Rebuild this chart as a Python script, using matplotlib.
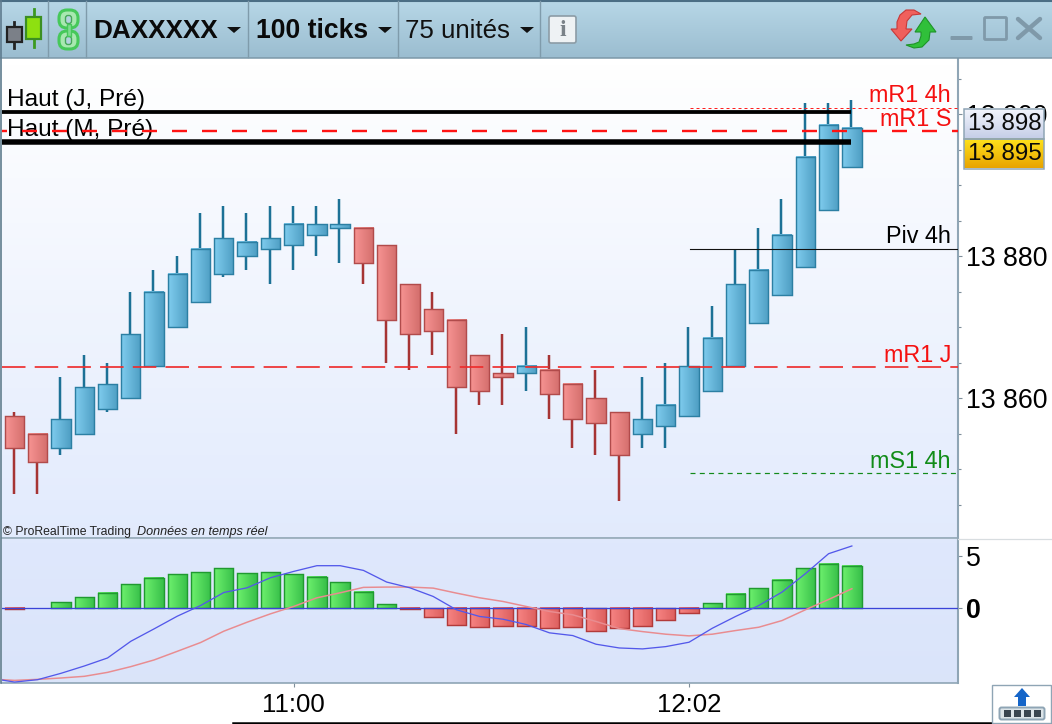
import numpy as np
import matplotlib
matplotlib.use("Agg")
import matplotlib.pyplot as plt
from matplotlib.patches import Polygon, Rectangle, FancyBboxPatch
from matplotlib.ticker import FixedLocator, FixedFormatter

plt.rcParams['font.family'] = ['Liberation Sans', 'DejaVu Sans']
plt.rcParams['lines.scale_dashes'] = False

# ---------- data ----------
top = [13857.5,13855,13857,13861.5,13862,13869,13875,13877.5,13881,13882.5,13882,13882.5,13884.5,13884.5,13884.5,13884,13881.5,13876,13872.5,13871,13866,13863.5,13864.5,13864,13862,13860,13858,13857,13859,13864.5,13868.5,13876,13878,13883,13894,13898.5,13898]
bottom = [13853,13851,13853,13855,13858.5,13860,13864.5,13870,13873.5,13877.5,13880,13881,13881.5,13883,13884,13879,13871,13869,13869.5,13861.5,13861,13863,13863.5,13860.5,13857,13856.5,13852,13855,13856,13857.5,13861,13864.5,13870.5,13874.5,13878.5,13886.5,13892.5]
high = [13858,13855,13863,13866,13865,13875,13878,13880,13886,13887,13886,13887,13887,13887,13888,13884,13881.5,13876,13875,13871,13866,13869,13870,13866,13862,13864,13858,13863,13865,13870,13873,13881,13884,13888,13901.5,13901.5,13902]
low = [13846.5,13846.5,13852,13855,13858,13860,13864.5,13870,13873.5,13877,13878,13876,13878,13880,13879,13876,13865,13864,13866,13855,13859,13859,13861,13857,13853,13852,13845.5,13853,13853,13857.5,13861,13864.5,13870.5,13874.5,13878.5,13886.5,13892.5]
up = [0,0,1,1,1,1,1,1,1,1,1,1,1,1,1,0,0,0,0,0,0,0,1,0,0,0,0,1,1,1,1,1,1,1,1,1,1]

hist = [-0.15,0,0.55,1.0,1.45,2.25,2.9,3.25,3.45,3.8,3.35,3.45,3.25,3.0,2.45,1.55,0.35,-0.15,-0.85,-1.65,-1.85,-1.75,-1.75,-1.95,-1.85,-2.2,-1.95,-1.75,-1.15,-0.5,0.45,1.35,1.9,2.7,3.8,4.25,4.05]
macd = [-6.76,-7.12,-6.89,-6.28,-5.58,-4.81,-3.21,-2.02,-0.80,0.22,1.47,1.92,2.88,3.49,4.04,4.04,3.59,2.47,1.92,1.09,-0.19,-0.83,-1.09,-1.60,-2.40,-2.66,-3.49,-3.85,-3.94,-3.72,-3.30,-1.96,-0.83,0.22,1.51,3.27,5.19,5.93]
signal = [-6.83,-6.96,-6.86,-6.73,-6.57,-6.19,-5.64,-5.0,-4.17,-3.33,-2.24,-1.38,-0.58,0.13,0.96,1.44,1.96,1.99,1.99,1.89,1.41,0.96,0.61,0.13,-0.35,-0.67,-1.31,-1.99,-2.28,-2.53,-2.69,-2.53,-2.18,-1.86,-1.22,-0.19,0.8,1.83]

haut_j = 13900.3
haut_m = 13896
mr1_4h = 13900.8
mr1_s = 13897.6
piv_4h = 13881
mr1_j = 13864.4
ms1_4h = 13849.4
last_price = 13898
other_price = 13895

price_major = [13860, 13880, 13900]
price_major_labels = ['13 860', '13 880', '13 900']
price_minor = [13845,13850,13855,13865,13870,13875,13885,13890,13895,13905]
time_pos = [12, 29]
time_labels = ['11:00', '12:02']

W, H = 1052, 724
fig = plt.figure(figsize=(W/100, H/100), dpi=100, facecolor='white')
PX = 0.72
def rect(l, t, r, b):
    return [l/W, 1-b/H, (r-l)/W, (b-t)/H]

XL = ((2-14.5)/23.26, (958-14.5)/23.26)
PY = lambda y: 13880 + (256-y)/7.1

ax = fig.add_axes(rect(2, 58, 958, 538))
ax2 = fig.add_axes(rect(2, 539, 958, 683))
for a in (ax, ax2):
    for s in ('left', 'top'):
        a.spines[s].set_visible(False)
    a.spines['right'].set_color('#8FA5B5')
    a.spines['right'].set_linewidth(1.5)
    a.spines['bottom'].set_color('#8FA5B5')
    a.spines['bottom'].set_linewidth(1.2)

ylim = (PY(538), PY(58))
ylim2 = (-7.21, 6.6)
g1 = np.linspace([1,1,1],[0.886,0.92,0.992],64).reshape(64,1,3)
ax.imshow(g1, extent=(XL[0],XL[1],ylim[0],ylim[1]), aspect='auto', origin='upper', zorder=0)
g2 = np.linspace([0.875,0.91,0.99],[0.855,0.895,0.98],32).reshape(32,1,3)
ax2.imshow(g2, extent=(XL[0],XL[1],ylim2[0],ylim2[1]), aspect='auto', origin='upper', zorder=0)

def hex2(c):
    return np.array(matplotlib.colors.to_rgb(c))
def grad_bar(a, x, y0, y1, c0, c1, ec, w=0.83, z=3):
    g = np.linspace(hex2(c0), hex2(c1), 24).reshape(1,24,3)
    a.imshow(g, extent=(x-w/2, x+w/2, y0, y1), aspect='auto', origin='lower', zorder=z, interpolation='bilinear')
    a.add_patch(Rectangle((x-w/2, y0), w, y1-y0, fill=False, ec=ec, lw=1.3*PX*1.1, zorder=z+0.1))

# candles
for i in range(len(top)):
    if up[i]:
        wick, c0, c1, ec = '#1C7196', '#7FCCEE', '#4F9FC4', '#2C7FA3'
    else:
        wick, c0, c1, ec = '#A63434', '#F79392', '#D46F6D', '#B14B4B'
    ax.plot([i-0.03, i-0.03], [low[i], high[i]], color=wick, lw=2.5*PX, zorder=2, solid_capstyle='butt')
    grad_bar(ax, i, bottom[i], top[i], c0, c1, ec)

# levels
last = len(top) - 1
ax.plot([XL[0], last-0.03], [haut_j, haut_j], color='black', lw=3.8*PX, zorder=5, solid_capstyle='butt')
ax.plot([XL[0], last-0.03], [haut_m, haut_m], color='black', lw=5.5*PX, zorder=5, solid_capstyle='butt')
i4h = (690-14.5)/23.26
ax.plot([XL[0], XL[1]], [mr1_s, mr1_s], color='#FF1414', lw=2.4*PX, zorder=6,
        linestyle=(10*PX, (15*PX, 15*PX)), dash_capstyle='butt')
ax.plot([XL[0], XL[1]], [mr1_j, mr1_j], color='#EE2C2C', lw=1.7*PX, zorder=6,
        linestyle=(0, (23.5*PX, 9.2*PX)), dash_capstyle='butt')
ax.plot([i4h, XL[1]], [mr1_4h, mr1_4h], color='#FF2020', lw=1*PX, zorder=6,
        linestyle=(0, (3*PX, 3*PX)), dash_capstyle='butt')
ax.plot([i4h, XL[1]], [piv_4h, piv_4h], color='#111111', lw=1.1*PX, zorder=6)
ax.plot([i4h, XL[1]], [ms1_4h, ms1_4h], color='#128A1A', lw=1.2*PX, zorder=6,
        linestyle=(0, (5*PX, 4.3*PX)), dash_capstyle='butt')

FS = 17.6
def ltxt(a, x_px, y_px, s, color='black', ha='left', fs=FS, z=7, **k):
    x = XL[0] + (x_px-2)/23.26
    a.text(x, PY(y_px), s, color=color, ha=ha, va='center', fontsize=fs, zorder=z, **k)
ltxt(ax, 7, 100, 'Haut (J, Pré)')
ltxt(ax, 7, 130, 'Haut (M, Pré)', z=5.5)
ltxt(ax, 951, 96, 'mR1 4h', color='#F51010', ha='right', fs=16.8)
ltxt(ax, 951, 119, 'mR1 S', color='#F51010', ha='right', fs=16.8)
ltxt(ax, 951, 236, 'Piv 4h', ha='right', fs=16.8)
ltxt(ax, 951, 355, 'mR1 J', color='#F51010', ha='right', fs=16.8)
ltxt(ax, 951, 461, 'mS1 4h', color='#118C18', ha='right', fs=16.8)
ltxt(ax, 3, 532, '© ProRealTime Trading', fs=8.8, color='#222222')
ltxt(ax, 137, 532, 'Données en temps réel', fs=9.1, color='#222222', style='italic')

ax.set_xlim(*XL); ax.set_ylim(*ylim)
ax.set_xticks([])
ax.yaxis.tick_right()
ax.yaxis.set_major_locator(FixedLocator(price_major))
ax.yaxis.set_major_formatter(FixedFormatter(price_major_labels))
ax.yaxis.set_minor_locator(FixedLocator(price_minor))
ax.tick_params(axis='y', which='major', length=4*PX, width=0.8, color='#7f8f9a', labelsize=19.3, pad=3)
ax.tick_params(axis='y', which='minor', length=3*PX, width=0.8, color='#7f8f9a')

# histogram
for i, v in enumerate(hist):
    if v > 0:
        grad_bar(ax2, i, 0, v, '#6DF06D', '#38C04A', '#209A30')
    elif v < 0:
        grad_bar(ax2, i, v, 0, '#F78584', '#DD5F5E', '#B23A3A')
ax2.axhline(0, color='#3A44D8', lw=1.3*PX, zorder=5)
xl = np.arange(-1, len(top))
ax2.plot(xl, signal, color='#E98C90', lw=1.5*PX, zorder=6)
ax2.plot(xl, macd, color='#5358EA', lw=1.3*PX, zorder=7)
ax2.set_xlim(*XL); ax2.set_ylim(*ylim2)
ax2.set_xticks(time_pos); ax2.set_xticklabels(time_labels)
ax2.set_yticks([0, 5]); ax2.set_yticklabels(['0', '5'])
ax2.yaxis.tick_right()
ax2.tick_params(axis='x', length=4*PX, width=0.8, color='#7f8f9a', labelsize=18.5, pad=4.5)
ax2.tick_params(axis='y', length=4*PX, width=0.8, color='#7f8f9a', labelsize=19.3, pad=3)
ax2.get_yticklabels()[0].set_fontweight('bold')

# ---------- window chrome (pixel overlay) ----------
ov = fig.add_axes([0, 0, 1, 1], facecolor='none', zorder=10)
ov.set_xlim(0, W); ov.set_ylim(H, 0); ov.axis('off')

def vgrad(l, t, r, b, c0, c1, z=1):
    g = np.linspace(hex2(c0), hex2(c1), 40).reshape(40,1,3)
    ov.imshow(g, extent=(l, r, b, t), aspect='auto', zorder=z, interpolation='bilinear')

vgrad(0, 0, W, 58, '#B7D7E7', '#9BBDD0')
ov.plot([0, W], [0.7, 0.7], color='#4B6E85', lw=1.5)
ov.plot([0, W], [57.8, 57.8], color='#7C98A8', lw=1.1, zorder=2)
ov.plot([0.7, 0.7], [0, 683], color='#5E7B8E', lw=1.2, zorder=2)
for x in (48, 86, 248, 398, 540):
    ov.plot([x, x], [1, 57], color='#7F9BAB', lw=1, zorder=2)

# candle icon
ov.plot([14, 14], [22, 48], color='#222', lw=2, zorder=3)
ov.add_patch(Rectangle((7, 27), 15, 15, fc='#7B8088', ec='#222', lw=1.6, zorder=4))
ov.plot([33.5, 33.5], [9, 47], color='#3C9A20', lw=2, zorder=3)
ov.add_patch(Rectangle((26, 17), 15, 22, fc='#8EE010', ec='#3C8F22', lw=1.6, zorder=4))
# chain icon
for t in (9, 30):
    ov.add_patch(FancyBboxPatch((61, t+3), 15, 14, boxstyle='round,pad=2,rounding_size=8',
                                fc='#A8E8B0', ec='#46C85A', lw=2.2, zorder=3))
    ov.add_patch(FancyBboxPatch((66, t+7), 5, 7, boxstyle='round,pad=0.5,rounding_size=2.5',
                                fc='#B5D2DF', ec='#46A85A', lw=1, zorder=4))
ov.add_patch(Rectangle((66.5, 24), 4, 12, fc='#7FDC90', ec='#46C85A', lw=1, zorder=5))

ov.text(93, 31, 'DAXXXXX', fontsize=18.8, fontweight='bold', va='center', zorder=3, color='#0A0A0A')
ov.text(256, 31, '100 ticks', fontsize=19.1, fontweight='bold', va='center', zorder=3, color='#0A0A0A')
ov.text(405, 31, '75 unités', fontsize=18.6, va='center', zorder=3, color='#111111')
for cx in (234, 385, 527):
    ov.add_patch(Polygon([(cx-7, 27), (cx+7, 27), (cx, 33)], fc='#111', ec='none', zorder=3))

# info button
ov.add_patch(FancyBboxPatch((550, 17), 25, 25, boxstyle='round,pad=1,rounding_size=2', fc='#EEF2F4', ec='#8C9CA6', lw=1.2, zorder=3))
ov.text(562.5, 30, 'i', fontsize=17, fontweight='bold', family='Liberation Serif', color='#7A8288', ha='center', va='center', zorder=4)

# refresh icon
ov.add_patch(Polygon([(891, 29), (901, 41), (912, 29), (906, 29), (907, 21), (912, 15), (921, 14), (914, 10), (906, 10), (900, 15), (897, 22), (897, 29)],
                     fc='#F0605C', ec='#C83838', lw=0.8, zorder=3))
ov.add_patch(Polygon([(915, 32), (925, 17), (936, 32), (930, 32), (929, 40), (922, 47), (914, 48), (906, 45), (914, 44), (919, 42), (921, 36), (921, 32)],
                     fc='#30C03A', ec='#1E9428', lw=0.8, zorder=4))
# window buttons
ov.add_patch(FancyBboxPatch((951, 36.5), 21, 3, boxstyle='round,pad=0.5,rounding_size=1', fc='#7F99A9', ec='none', zorder=3))
ov.add_patch(FancyBboxPatch((985, 18), 21, 21, boxstyle='round,pad=0.5,rounding_size=1', fc='none', ec='#7F99A9', lw=2, zorder=3))
ov.plot([1018, 1040], [19, 38], color='#7F99A9', lw=3.2, zorder=3, solid_capstyle='round')
ov.plot([1018, 1040], [38, 19], color='#7F99A9', lw=3.2, zorder=3, solid_capstyle='round')

# price labels on the right
def price_box(t, b, c0, c1, s):
    vgrad(964, t, 1044, b, c0, c1, z=5)
    ov.add_patch(Rectangle((964, t), 80, b-t, fill=False, ec='#8FA5B5', lw=1.1, zorder=6))
    ov.text(1005, (t+b)/2+0.5, s, fontsize=17.4, ha='center', va='center', zorder=7, color='#0A0A0A')
price_box(108.5, 138.5, '#F4F6FD', '#C6CFE8', f'{last_price//1000} {last_price%1000}')
price_box(138.5, 168.5, '#FFE31C', '#E8A400', f'{other_price//1000} {other_price%1000}')

# bottom right button and rule
ov.plot([233, W], [722.5, 722.5], color='black', lw=1.8, zorder=3)
ov.plot([958, W], [539, 539], color='#D8DDE0', lw=0.9, zorder=3)
ov.add_patch(Rectangle((992, 684.5), 59, 38, fc='white', ec='#8FA5B5', lw=1, zorder=3))
ov.add_patch(Polygon([(1022, 688), (1030, 697), (1026, 697), (1026, 706), (1018, 706), (1018, 697), (1014, 697)], fc='#1565C8', ec='none', zorder=4))
ov.add_patch(FancyBboxPatch((1000, 708), 44, 11, boxstyle='round,pad=0.5,rounding_size=2', fc='#DCE4E8', ec='#8FA5B5', lw=1.4, zorder=4))
for x in (1004, 1014, 1024, 1034):
    ov.add_patch(Rectangle((x, 710), 7, 7, fc='#3A4650', ec='none', zorder=5))

ov.set_xlim(0, W); ov.set_ylim(H, 0)
fig.savefig('out.png', dpi=100, facecolor='white')
